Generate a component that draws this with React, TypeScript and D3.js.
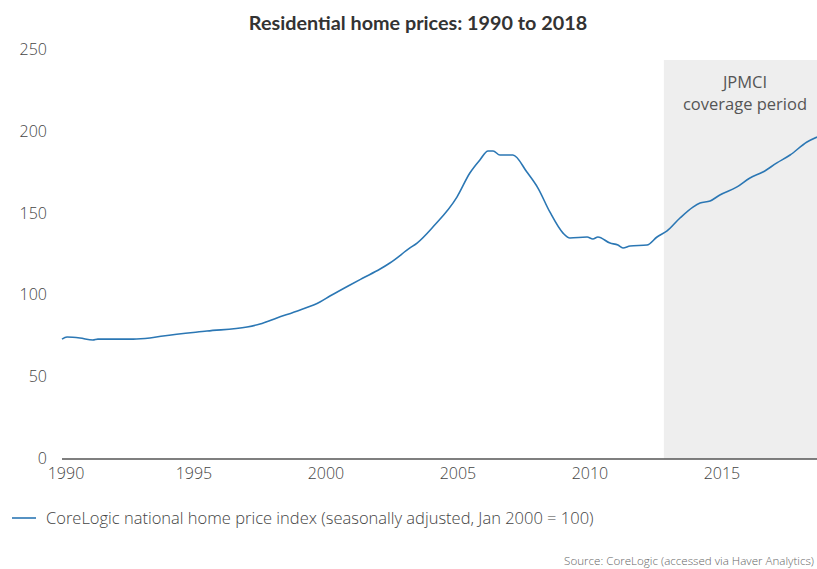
import React from "react";
import * as d3 from "d3";

const years = [
  1990.0, 1990.19, 1990.68, 1991.17, 1991.36, 1992.0, 1992.69, 1993.33, 1993.83, 1995.49,
  1997.01, 1997.5, 1998.14, 1999.02, 1999.77, 2000.15, 2000.91, 2001.4, 2002.05, 2002.42,
  2003.18, 2003.45, 2004.05, 2004.96, 2005.45, 2005.83, 2006.14, 2006.33, 2006.59, 2007.08,
  2007.61, 2008.03, 2008.48, 2008.98, 2009.24, 2009.89, 2010.11, 2010.3, 2010.76, 2011.06,
  2011.25, 2011.52, 2012.16, 2012.54, 2012.92, 2013.41, 2013.9, 2014.17, 2014.55, 2014.92,
  2015.57, 2016.06, 2016.55, 2017.08, 2017.58, 2018.22, 2018.6,
];
const values = [
  73.3, 74.6, 74.0, 72.7, 73.3, 73.3, 73.3, 74.0, 75.2, 78.2,
  80.7, 82.5, 86.2, 91.1, 96.0, 99.6, 106.4, 110.6, 116.1, 119.8,
  129.0, 132.0, 141.8, 160.1, 174.8, 182.8, 188.3, 188.3, 185.8, 185.8,
  175.4, 165.6, 151.0, 138.1, 135.1, 135.7, 134.5, 135.7, 132.0, 130.8,
  129.0, 130.2, 130.8, 135.7, 139.4, 147.3, 154.0, 156.5, 157.7, 161.4,
  166.3, 171.8, 175.4, 181.0, 185.8, 193.8, 196.8,
];
const yTicks = [0, 50, 100, 150, 200, 250];
const xTicks = [1990, 1995, 2000, 2005, 2010, 2015];
const coverageStart = 2012.8;

const title = "Residential home prices: 1990 to 2018";
const legendLabel = "CoreLogic national home price index (seasonally adjusted, Jan 2000 = 100)";
const sourceLabel = "Source: CoreLogic (accessed via Haver Analytics)";

export default function App() {
  const W = 817, H = 569;
  const x = d3.scaleLinear().domain([1990, 2018.6]).range([62, 817]);
  const y = d3.scaleLinear().domain([0, 250]).range([459, 50]);
  const data = years.map((yr, i) => [yr, values[i]] as [number, number]);
  const line = d3
    .line<[number, number]>()
    .x((d) => x(d[0]))
    .y((d) => y(d[1]))
    .curve(d3.curveMonotoneX);
  const font = "'Open Sans', sans-serif";
  const lineColor = "#2b77b4";

  return (
    <div style={{ position: "absolute", left: 0, top: 0 }}>
      <svg width={W} height={H} style={{ display: "block", fontFamily: font }}>
        <rect width={W} height={H} fill="#ffffff" />
        <rect
          x={x(coverageStart)}
          y={60}
          width={W - x(coverageStart)}
          height={y(0) - 60}
          fill="#eeeeee"
        />
        <text x={745} y={88} textAnchor="middle" fontSize={16.5} fill="#555">JPMCI</text>
        <text x={745} y={110} textAnchor="middle" fontSize={16.5} fill="#555">coverage period</text>

        <text
          x={418}
          y={30}
          textAnchor="middle"
          fontSize={19.8}
          fontWeight="bold"
          fill="#333"
          style={{ fontFamily: "Lato, sans-serif" }}
        >
          {title}
        </text>

        {yTicks.map((t) => (
          <text key={t} x={47} y={y(t) + 5} textAnchor="end" fontSize={16} fill="#444" fontWeight={300}>
            {t}
          </text>
        ))}

        <line x1={62} x2={W} y1={y(0)} y2={y(0)} stroke="#555" strokeWidth={1.5} />

        {xTicks.map((t, i) => (
          <text
            key={t}
            x={x(t) + (i === 0 ? 4 : 0)}
            y={479}
            textAnchor="middle"
            fontSize={16}
            fill="#444"
            fontWeight={300}
          >
            {t}
          </text>
        ))}

        <path d={line(data) || ""} fill="none" stroke={lineColor} strokeWidth={1.6} />

        <line x1={12} x2={36} y1={518} y2={518} stroke={lineColor} strokeWidth={1.6} />
        <text x={46} y={524} fontSize={16.5} fill="#444" fontWeight={300}>
          {legendLabel}
        </text>

        <text x={814} y={565} textAnchor="end" fontSize={11.6} fill="#666" fontWeight={300}>
          {sourceLabel}
        </text>
      </svg>
    </div>
  );
}
